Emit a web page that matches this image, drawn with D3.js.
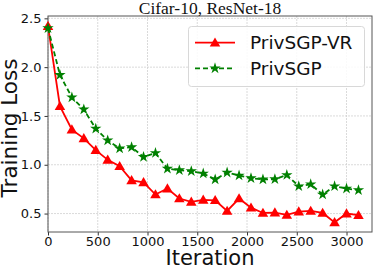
<!DOCTYPE html>
<html>
<head>
<meta charset="utf-8">
<script src="https://cdn.jsdelivr.net/npm/d3@7"></script>
<style>
  body { margin: 0; background: #fff; }
  svg { display: block; font-family: "DejaVu Sans", sans-serif; }
</style>
</head>
<body>
<svg width="374" height="268"></svg>
<script>
// data
var iterations = [0, 120, 240, 360, 480, 600, 720, 840, 960, 1080, 1200, 1320, 1440, 1560,
                  1680, 1800, 1920, 2040, 2160, 2280, 2400, 2520, 2640, 2760, 2880, 3000, 3120];
var lossVR = [2.42, 1.60, 1.36, 1.27, 1.15, 1.05, 0.985, 0.84, 0.82, 0.695, 0.756, 0.654, 0.62, 0.64,
              0.636, 0.527, 0.654, 0.56, 0.506, 0.51, 0.486, 0.52, 0.527, 0.506, 0.41, 0.50, 0.483];
var lossSGP = [2.40, 1.92, 1.69, 1.567, 1.37, 1.25, 1.167, 1.18, 1.08, 1.12, 0.96, 0.944, 0.934, 0.91,
               0.85, 0.92, 0.89, 0.862, 0.85, 0.852, 0.895, 0.78, 0.80, 0.695, 0.78, 0.756, 0.74];
var xTicks = [0, 500, 1000, 1500, 2000, 2500, 3000];
var yTicks = [0.5, 1.0, 1.5, 2.0, 2.5];

var margin = {top: 16, right: 2, bottom: 36, left: 48};
var width = 374 - margin.left - margin.right;
var height = 268 - margin.top - margin.bottom;

var svg = d3.select("svg");
var g = svg.append("g").attr("transform", "translate(" + margin.left + "," + margin.top + ")");

var xScale = d3.scaleLinear().domain([0, 3256]).range([0, width]);
var yScale = d3.scaleLinear().domain([0.311, 2.524]).range([height, 0]);

// grid
g.selectAll(".gx").data(xTicks).enter().append("line")
    .attr("x1", function(d) { return xScale(d); })
    .attr("x2", function(d) { return xScale(d); })
    .attr("y1", 0).attr("y2", height)
    .attr("stroke", "#d0d0d0").attr("stroke-width", 0.8).attr("stroke-dasharray", "2,1");
g.selectAll(".gy").data(yTicks).enter().append("line")
    .attr("y1", function(d) { return yScale(d); })
    .attr("y2", function(d) { return yScale(d); })
    .attr("x1", 0).attr("x2", width)
    .attr("stroke", "#d0d0d0").attr("stroke-width", 0.8).attr("stroke-dasharray", "2,1");

// axes
var xAxis = d3.axisBottom(xScale).tickValues(xTicks).tickSize(3.5).tickPadding(1.5)
    .tickFormat(d3.format("d"));
var yAxis = d3.axisLeft(yScale).tickValues(yTicks).tickSize(3.5).tickPadding(3)
    .tickFormat(d3.format(".1f"));

var gx = g.append("g").attr("transform", "translate(0," + height + ")").call(xAxis);
var gy = g.append("g").call(yAxis);
[gx, gy].forEach(function(a) {
    a.select(".domain").remove();
    a.selectAll("line").attr("stroke", "#333");
    a.selectAll("text").attr("font-size", 13).attr("fill", "#111")
        .attr("font-family", "DejaVu Sans, sans-serif");
});

// frame
g.append("rect").attr("width", width).attr("height", height)
    .attr("fill", "none").attr("stroke", "#555").attr("stroke-width", 1);

var line = function(vals) {
    return d3.line()
        .x(function(d, i) { return xScale(iterations[i]); })
        .y(function(d) { return yScale(d); })(vals);
};

var tri = d3.symbol().type(d3.symbolTriangle).size(48);
var star = d3.symbol().type(d3.symbolStar).size(40);

// PrivSGP-VR
g.append("path").attr("d", line(lossVR))
    .attr("fill", "none").attr("stroke", "red").attr("stroke-width", 1.8);
g.selectAll(".mvr").data(lossVR).enter().append("path")
    .attr("d", tri)
    .attr("transform", function(d, i) { return "translate(" + xScale(iterations[i]) + "," + (yScale(d) + 0.8) + ")"; })
    .attr("fill", "red");

// PrivSGP
g.append("path").attr("d", line(lossSGP))
    .attr("fill", "none").attr("stroke", "green").attr("stroke-width", 1.8)
    .attr("stroke-dasharray", "5,3");
g.selectAll(".msgp").data(lossSGP).enter().append("path")
    .attr("d", star)
    .attr("transform", function(d, i) { return "translate(" + xScale(iterations[i]) + "," + yScale(d) + ")"; })
    .attr("fill", "green");

// title and labels
svg.append("text").attr("x", 210).attr("y", 13.5).attr("text-anchor", "middle")
    .attr("font-family", "Liberation Serif, Times New Roman, serif").attr("font-size", 17.5)
    .attr("fill", "#111").text("Cifar-10, ResNet-18");
svg.append("text").attr("x", 210).attr("y", 265).attr("text-anchor", "middle")
    .attr("font-size", 21).attr("fill", "#111").text("Iteration");
svg.append("text").attr("transform", "translate(17,128) rotate(-90)").attr("text-anchor", "middle")
    .attr("font-size", 21.5).attr("fill", "#111").text("Training Loss");

// legend
var lg = svg.append("g");
lg.append("rect").attr("x", 188.5).attr("y", 26.5).attr("width", 176).attr("height", 60)
    .attr("rx", 3).attr("fill", "white").attr("fill-opacity", 0.85)
    .attr("stroke", "#d8d8d8").attr("stroke-width", 1);
var legendItems = [
    {name: "PrivSGP-VR", color: "red", dash: null, sym: tri, dy: 0.8},
    {name: "PrivSGP", color: "green", dash: "5,3", sym: star, dy: 0}
];
legendItems.forEach(function(it, i) {
    var y = 42.7 + i * 25.6;
    lg.append("line").attr("x1", 195).attr("x2", 235).attr("y1", y).attr("y2", y)
        .attr("stroke", it.color).attr("stroke-width", 1.8).attr("stroke-dasharray", it.dash);
    lg.append("path").attr("d", it.sym).attr("fill", it.color)
        .attr("transform", "translate(215," + (y + it.dy) + ")");
    lg.append("text").attr("x", 250).attr("y", y + 6.5).attr("font-size", 18.5)
        .attr("fill", "#111").text(it.name);
});
</script>
</body>
</html>
